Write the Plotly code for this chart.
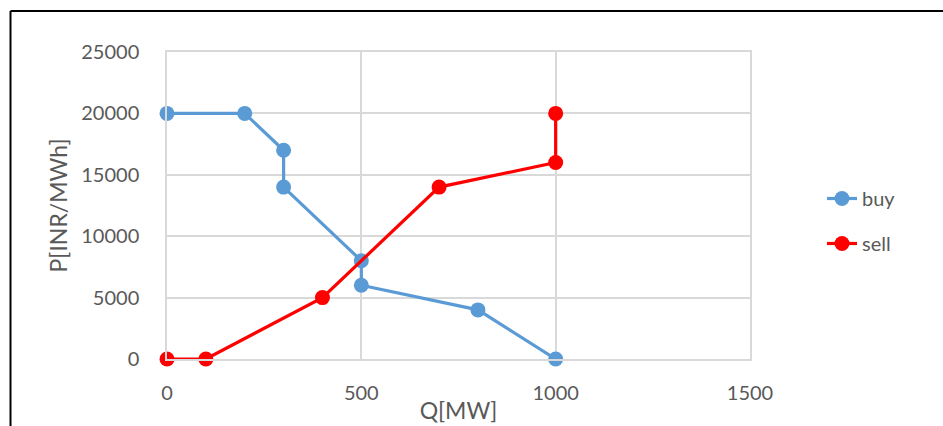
import plotly.graph_objects as go

buy_q = [0, 200, 300, 300, 500, 500, 800, 1000]
buy_p = [20000, 20000, 17000, 14000, 8000, 6000, 4000, 0]
sell_q = [0, 100, 400, 700, 1000, 1000]
sell_p = [0, 0, 5000, 14000, 16000, 20000]
x_ticks = [0, 500, 1000, 1500]
y_ticks = [0, 5000, 10000, 15000, 20000, 25000]
y_tick_labels = ["0", "5000", "10000", "15000", "20000", "25000"]

W, H = 943, 426
ML, MR, MT, MB = 167, 193, 52, 67
pw, ph = W - ML - MR, H - MT - MB

fig = go.Figure()
fig.add_trace(go.Scatter(x=buy_q, y=buy_p, mode="lines+markers", name="buy",
                         legendgroup="buy", cliponaxis=False,
                         line=dict(color="#5B9BD5", width=3.2),
                         marker=dict(size=15, color="#5B9BD5")))
fig.add_trace(go.Scatter(x=sell_q, y=sell_p, mode="lines+markers", name="sell",
                         legendgroup="sell", cliponaxis=False,
                         line=dict(color="#FF0000", width=3.2),
                         marker=dict(size=15, color="#FF0000")))

font = "Lato, 'Open Sans', sans-serif"
fig.update_layout(
    width=W, height=H,
    margin=dict(l=ML, r=MR, t=MT, b=MB, pad=0, autoexpand=False),
    paper_bgcolor="white", plot_bgcolor="white",
    font=dict(family=font, color="#595959", size=20),
    legend=dict(x=(822 - ML) / pw, y=1 - (179 - MT) / ph, xanchor="left", yanchor="top",
                font=dict(size=20, color="#595959"), traceorder="grouped",
                tracegroupgap=16, bgcolor="rgba(0,0,0,0)"),
    xaxis=dict(range=[0, 1500], tickvals=x_ticks, showgrid=True, gridcolor="#d9d9d9",
               gridwidth=1.5, zeroline=False, showline=True, linecolor="#d9d9d9",
               linewidth=1.5, ticks="", ticklabelstandoff=15, tickfont=dict(size=20),
               automargin=False,
               title=dict(text="Q[MW]", font=dict(size=23, color="#595959"), standoff=0),
               mirror=True),
    yaxis=dict(range=[0, 25000], tickvals=y_ticks, ticktext=y_tick_labels,
               showgrid=True, gridcolor="#d9d9d9", automargin=False,
               gridwidth=1.5, zeroline=False, showline=True, linecolor="#d9d9d9",
               linewidth=1.5, ticks="", ticklabelstandoff=22, tickfont=dict(size=20),
               title=dict(text="P[INR/MWh]", font=dict(size=23, color="#595959"), standoff=7),
               mirror=True),
    showlegend=True,
)

# outer frame (top and left edges visible)
x_left = (10.5 - ML) / pw
y_top = 1 + (MT - 11) / ph
fig.add_shape(type="line", xref="paper", yref="paper", x0=x_left, x1=(W + 5 - ML) / pw,
              y0=y_top, y1=y_top, line=dict(color="black", width=2))
fig.add_shape(type="line", xref="paper", yref="paper", x0=x_left, x1=x_left,
              y0=y_top, y1=-(MB + 5) / ph, line=dict(color="black", width=2))

fig.write_html("out.html")
